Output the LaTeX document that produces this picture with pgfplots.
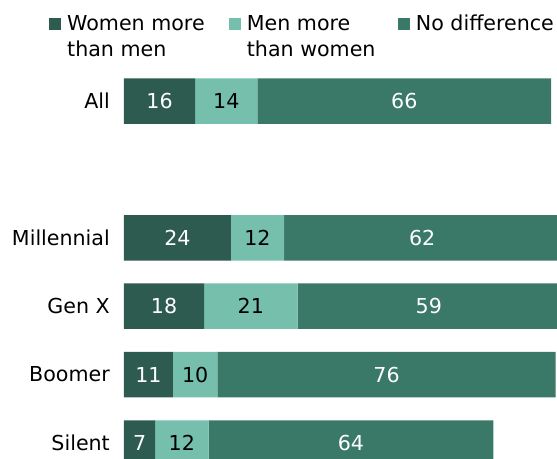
\documentclass[border=0pt]{standalone}
\usepackage{pgfplots}
\pgfplotsset{compat=1.18}
\usepackage{fontspec}
\setmainfont{DejaVu Sans}

\definecolor{wmore}{HTML}{2D5B4F}
\definecolor{mmore}{HTML}{76BFAD}
\definecolor{nodiff}{HTML}{3A7868}

\begin{document}
\fontsize{20.6}{25.7}\selectfont
\begin{tikzpicture}
\begin{axis}[
    name=ax,
    scale only axis,
    width=440.55pt, height=459pt,
    xbar stacked,
    bar width=0.665,
    xmin=0, xmax=99,
    ymin=-1.477, ymax=5.234,
    y dir=reverse,
    ytick={0,2,3,4,5},
    yticklabels={All, Millennial, Gen X, Boomer, Silent},
    yticklabel style={inner sep=0pt, xshift=-14pt, font=\fontsize{20.6}{24}\selectfont},
    hide x axis,
    axis y line*=left,
    y axis line style={draw=none},
    major tick style={draw=none},
    /pgf/number format/assume math mode=true,
    nodes near coords,
    every node near coord/.append style={font=\fontsize{20.6}{24}\selectfont},
    clip=true,
]
\addplot[fill=wmore, draw=none, every node near coord/.append style={text=white}]
  coordinates {(16,0) (24,2) (18,3) (11,4) (7,5)};
\addplot[fill=mmore, draw=none, every node near coord/.append style={text=black}]
  coordinates {(14,0) (12,2) (21,3) (10,4) (12,5)};
\addplot[fill=nodiff, draw=none, every node near coord/.append style={text=white}]
  coordinates {(66,0) (62,2) (59,3) (76,4) (64,5)};
\end{axis}
% legend
\begin{scope}[shift={(ax.north west)}]
  \fill[wmore]  (-75pt,-30pt) rectangle ++(12pt,12pt);
  \fill[mmore]  (105pt,-30pt) rectangle ++(12pt,12pt);
  \fill[nodiff] (274pt,-30pt) rectangle ++(12pt,12pt);
  \node[anchor=base west, inner sep=0pt] at (-57pt,-31pt) {Women more};
  \node[anchor=base west, inner sep=0pt] at (-57pt,-56.7pt) {than men};
  \node[anchor=base west, inner sep=0pt] at (122.7pt,-31pt) {Men more};
  \node[anchor=base west, inner sep=0pt] at (122.7pt,-56.7pt) {than women};
  \node[anchor=base west, inner sep=0pt] at (291.7pt,-31pt) {No difference};
\end{scope}
\pgfresetboundingbox
\path[use as bounding box] (ax.south west) ++(-124pt,0pt) rectangle ([xshift=433pt]ax.north west);
\end{tikzpicture}
\end{document}
